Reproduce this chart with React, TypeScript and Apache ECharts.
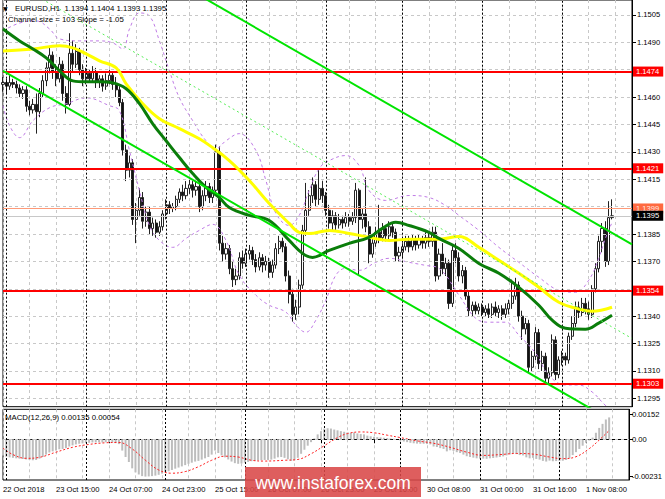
import React, { useEffect, useRef } from "react";
import * as echarts from "echarts";

const FONT = '"Liberation Sans", Arial, sans-serif';
const N_CATS = 190;

const xTickLabels = [
  "22 Oct 2018", "23 Oct 15:00", "24 Oct 07:00", "24 Oct 23:00", "25 Oct 15:00", "26 Oct 07:00",
  "26 Oct 23:00", "29 Oct 16:00", "30 Oct 08:00", "31 Oct 00:00", "31 Oct 16:00", "1 Nov 08:00",
];
const priceTicks = [1.1505, 1.149, 1.146, 1.1445, 1.143, 1.1415, 1.1385, 1.137, 1.134, 1.1325, 1.131, 1.1295];
const gridPrices = [1.1505, 1.149, 1.1475, 1.146, 1.1445, 1.143, 1.1415, 1.14, 1.1385, 1.137, 1.1355, 1.134, 1.1325, 1.131, 1.1295];
const separatorBars = [1, 25, 49, 73, 97, 120, 144, 168];
const levelLines = [1.1474, 1.1421, 1.1354, 1.1303];
const askPrice = 1.1399;
const bidPrice = 1.1395;

// [open, close, low, high]
const candles = [
  [1.1467, 1.1468, 1.1463, 1.1471], [1.1468, 1.1466, 1.1462, 1.147], [1.1466, 1.1468, 1.1464, 1.1472],
  [1.1468, 1.1467, 1.1465, 1.147], [1.1467, 1.1465, 1.1462, 1.1469], [1.1465, 1.1462, 1.146, 1.1467],
  [1.1462, 1.1464, 1.1459, 1.1466], [1.1464, 1.1455, 1.1452, 1.1466], [1.1455, 1.1453, 1.145, 1.1458],
  [1.1453, 1.1456, 1.1451, 1.1459], [1.1456, 1.1452, 1.144, 1.1462], [1.1452, 1.1462, 1.1449, 1.1465],
  [1.1462, 1.1469, 1.146, 1.1472], [1.1469, 1.1476, 1.1466, 1.1479], [1.1476, 1.1483, 1.1473, 1.1487],
  [1.1483, 1.1474, 1.147, 1.1485], [1.1474, 1.147, 1.1466, 1.1478], [1.147, 1.1478, 1.1468, 1.1482],
  [1.1478, 1.1462, 1.1458, 1.148], [1.1462, 1.1456, 1.1451, 1.1466], [1.1456, 1.1484, 1.1455, 1.1495],
  [1.1484, 1.1478, 1.1474, 1.1491], [1.1478, 1.1485, 1.1476, 1.1489], [1.1485, 1.1475, 1.1472, 1.1487],
  [1.1475, 1.147, 1.1466, 1.1478], [1.147, 1.1473, 1.1467, 1.1476], [1.1473, 1.147, 1.1468, 1.1475],
  [1.147, 1.1474, 1.1468, 1.1477], [1.1474, 1.1468, 1.1465, 1.1476], [1.1468, 1.147, 1.1465, 1.1472],
  [1.147, 1.1466, 1.1463, 1.1472], [1.1466, 1.1469, 1.1464, 1.1473], [1.1469, 1.1472, 1.1467, 1.1475],
  [1.1472, 1.1467, 1.1464, 1.1474], [1.1467, 1.1464, 1.146, 1.1471], [1.1464, 1.1457, 1.1455, 1.1466],
  [1.1457, 1.1431, 1.1428, 1.1459], [1.1431, 1.142, 1.1414, 1.1434], [1.142, 1.1424, 1.1416, 1.1428],
  [1.1424, 1.1393, 1.139, 1.1426], [1.1393, 1.1398, 1.138, 1.1402], [1.1398, 1.1405, 1.1395, 1.141],
  [1.1405, 1.1392, 1.1388, 1.1408], [1.1392, 1.1397, 1.1389, 1.14], [1.1397, 1.1388, 1.1385, 1.14],
  [1.1388, 1.1391, 1.1384, 1.1394], [1.1391, 1.1386, 1.1383, 1.1393], [1.1386, 1.1389, 1.1384, 1.1392],
  [1.1389, 1.1396, 1.1387, 1.1398], [1.1396, 1.1401, 1.1393, 1.1404], [1.1401, 1.1399, 1.1396, 1.1403],
  [1.1399, 1.14, 1.1397, 1.1402], [1.14, 1.1404, 1.1398, 1.1406], [1.1404, 1.1408, 1.1402, 1.141],
  [1.1408, 1.1406, 1.1403, 1.1412], [1.1406, 1.141, 1.1404, 1.1414], [1.141, 1.1412, 1.1407, 1.1416],
  [1.1412, 1.1409, 1.1405, 1.1414], [1.1409, 1.1411, 1.1406, 1.1414], [1.1411, 1.14, 1.1397, 1.1413],
  [1.14, 1.1406, 1.1398, 1.1409], [1.1406, 1.1411, 1.1403, 1.1414], [1.1411, 1.1405, 1.1402, 1.1413],
  [1.1405, 1.1409, 1.1402, 1.1411], [1.1409, 1.143, 1.1406, 1.1434], [1.143, 1.138, 1.1376, 1.1433],
  [1.138, 1.1374, 1.137, 1.1384], [1.1374, 1.1377, 1.1371, 1.138], [1.1377, 1.1366, 1.1363, 1.1379],
  [1.1366, 1.136, 1.1356, 1.137], [1.136, 1.1362, 1.1357, 1.1366], [1.1362, 1.1372, 1.136, 1.1375],
  [1.1372, 1.1369, 1.1366, 1.1376], [1.1369, 1.1374, 1.1367, 1.1377], [1.1374, 1.1376, 1.1371, 1.1379],
  [1.1376, 1.1371, 1.1368, 1.1378], [1.1371, 1.1367, 1.1364, 1.1374], [1.1367, 1.1372, 1.1365, 1.1375],
  [1.1372, 1.1368, 1.1364, 1.1374], [1.1368, 1.137, 1.1365, 1.1373], [1.137, 1.1364, 1.1361, 1.1372],
  [1.1364, 1.1368, 1.1361, 1.1371], [1.1368, 1.1377, 1.1366, 1.138], [1.1377, 1.1381, 1.1374, 1.1384],
  [1.1381, 1.1378, 1.1375, 1.1383], [1.1378, 1.1362, 1.1359, 1.138], [1.1362, 1.1352, 1.1347, 1.1365],
  [1.1352, 1.1341, 1.1337, 1.1355], [1.1341, 1.1345, 1.1338, 1.1349], [1.1345, 1.1357, 1.1341, 1.136],
  [1.1357, 1.1387, 1.1355, 1.139], [1.1387, 1.1398, 1.1384, 1.1413], [1.1398, 1.1406, 1.1395, 1.1409],
  [1.1406, 1.1412, 1.1402, 1.1416], [1.1412, 1.1404, 1.14, 1.1414], [1.1404, 1.141, 1.1401, 1.1421],
  [1.141, 1.1406, 1.1402, 1.1414], [1.1406, 1.1398, 1.1395, 1.1408], [1.1398, 1.1391, 1.1388, 1.1401],
  [1.1391, 1.1395, 1.1387, 1.1398], [1.1395, 1.139, 1.1387, 1.1397], [1.139, 1.1393, 1.1388, 1.1396],
  [1.1393, 1.1391, 1.1388, 1.1395], [1.1391, 1.1394, 1.1389, 1.1397], [1.1394, 1.1392, 1.1389, 1.1396],
  [1.1392, 1.1394, 1.139, 1.1397], [1.1394, 1.1409, 1.1391, 1.1413], [1.1409, 1.1393, 1.1362, 1.141],
  [1.1393, 1.1396, 1.1388, 1.1399], [1.1396, 1.1389, 1.1386, 1.1416], [1.1389, 1.1374, 1.1369, 1.1392],
  [1.1374, 1.138, 1.1372, 1.1383], [1.138, 1.1386, 1.1378, 1.1389], [1.1386, 1.1383, 1.138, 1.1401],
  [1.1383, 1.1388, 1.1381, 1.1391], [1.1388, 1.1384, 1.1381, 1.139], [1.1384, 1.1389, 1.1382, 1.1392],
  [1.1389, 1.1386, 1.1383, 1.1391], [1.1386, 1.1373, 1.137, 1.1388], [1.1373, 1.1375, 1.137, 1.1378],
  [1.1375, 1.1378, 1.1372, 1.138], [1.1378, 1.1381, 1.1376, 1.1384], [1.1381, 1.1378, 1.1375, 1.1384],
  [1.1378, 1.1382, 1.1376, 1.1385], [1.1382, 1.1379, 1.1376, 1.1384], [1.1379, 1.1382, 1.1377, 1.1385],
  [1.1382, 1.138, 1.1377, 1.1384], [1.138, 1.1383, 1.1377, 1.1386], [1.1383, 1.1381, 1.1378, 1.1386],
  [1.1381, 1.1386, 1.1378, 1.1389], [1.1386, 1.1362, 1.1359, 1.1389], [1.1362, 1.1374, 1.136, 1.1377],
  [1.1374, 1.1366, 1.1363, 1.138], [1.1366, 1.1369, 1.1362, 1.1372], [1.1369, 1.1347, 1.1344, 1.1371],
  [1.1347, 1.1376, 1.1345, 1.1379], [1.1376, 1.1372, 1.1369, 1.138], [1.1372, 1.1362, 1.1359, 1.1375],
  [1.1362, 1.1365, 1.1358, 1.1368], [1.1365, 1.1351, 1.1349, 1.1367], [1.1351, 1.1343, 1.134, 1.1354],
  [1.1343, 1.1346, 1.134, 1.1348], [1.1346, 1.1343, 1.1341, 1.1348], [1.1343, 1.1345, 1.1341, 1.1347],
  [1.1345, 1.1342, 1.134, 1.1347], [1.1342, 1.1344, 1.134, 1.1346], [1.1344, 1.1341, 1.1339, 1.1347],
  [1.1341, 1.1345, 1.1339, 1.1347], [1.1345, 1.1342, 1.134, 1.1348], [1.1342, 1.1344, 1.1339, 1.1346],
  [1.1344, 1.1341, 1.1338, 1.1346], [1.1341, 1.1344, 1.1339, 1.1347], [1.1344, 1.1347, 1.1341, 1.1349],
  [1.1347, 1.1351, 1.1344, 1.136], [1.1351, 1.1357, 1.1349, 1.1361], [1.1357, 1.134, 1.1337, 1.1359],
  [1.134, 1.1333, 1.1327, 1.1343], [1.1333, 1.1336, 1.133, 1.1339], [1.1336, 1.1312, 1.1309, 1.1338],
  [1.1312, 1.1318, 1.131, 1.1321], [1.1318, 1.1331, 1.1316, 1.1334], [1.1331, 1.1314, 1.1311, 1.1333],
  [1.1314, 1.1318, 1.131, 1.1321], [1.1318, 1.1306, 1.1303, 1.132], [1.1306, 1.1309, 1.1303, 1.1312],
  [1.1309, 1.1327, 1.1307, 1.133], [1.1327, 1.1308, 1.1305, 1.1329], [1.1308, 1.1316, 1.1306, 1.1318],
  [1.1316, 1.1318, 1.1313, 1.1321], [1.1318, 1.1316, 1.1313, 1.132], [1.1316, 1.1329, 1.1314, 1.1331],
  [1.1329, 1.1336, 1.1327, 1.134], [1.1336, 1.1345, 1.1334, 1.1348], [1.1345, 1.1342, 1.1339, 1.1348],
  [1.1342, 1.1347, 1.134, 1.135], [1.1347, 1.1344, 1.1341, 1.135], [1.1344, 1.1341, 1.1338, 1.1348],
  [1.1341, 1.1355, 1.1339, 1.1357], [1.1355, 1.1366, 1.1353, 1.1369], [1.1366, 1.1381, 1.1364, 1.1384],
  [1.1381, 1.1388, 1.1375, 1.1391], [1.1388, 1.137, 1.1367, 1.1392], [1.137, 1.1394, 1.1368, 1.1403],
  [1.1394, 1.1395, 1.1393, 1.1404],
];

// [bar index, price]
const maYellow = [
  [0, 1.14853], [9, 1.14864], [17, 1.14881], [21, 1.1487], [25, 1.14837], [29, 1.14799], [34, 1.1476],
  [37, 1.14673], [42, 1.14564], [47, 1.14482], [53, 1.14427], [59, 1.14372], [63, 1.14323], [68, 1.14252],
  [74, 1.14143], [80, 1.14017], [86, 1.13908], [89, 1.13859], [92, 1.13853], [98, 1.1387], [104, 1.13853],
  [110, 1.13832], [116, 1.13815], [122, 1.13821], [131, 1.13821], [137, 1.13837], [143, 1.13777],
  [149, 1.13706], [155, 1.13635], [161, 1.13558], [167, 1.13476], [172, 1.13444], [177, 1.13427], [183, 1.13449],
];
const maGreen = [
  [0, 1.14973], [5, 1.14908], [9, 1.14864], [13, 1.14815], [17, 1.14744], [21, 1.14689], [25, 1.14684],
  [29, 1.14684], [33, 1.14678], [37, 1.14646], [41, 1.14564], [45, 1.14454], [49, 1.14361], [53, 1.14269],
  [57, 1.14181], [61, 1.14105], [65, 1.1405], [68, 1.13995], [74, 1.13952], [80, 1.13924], [86, 1.13815],
  [90, 1.13744], [93, 1.13722], [98, 1.1376], [104, 1.13799], [110, 1.13832], [114, 1.13881], [118, 1.13914],
  [122, 1.13897], [128, 1.13859], [131, 1.13826], [137, 1.13771], [143, 1.13689], [149, 1.13635],
  [155, 1.13558], [161, 1.1346], [165, 1.13378], [169, 1.13334], [175, 1.13329], [179, 1.13362], [183, 1.13405],
];
const bandUpper = [
  [0, 1.14963], [5, 1.15006], [10, 1.15017], [14, 1.14973], [17, 1.14919], [23, 1.14908], [29, 1.14908],
  [33, 1.14897], [36, 1.14864], [38, 1.14973], [41, 1.15061], [44, 1.15045], [47, 1.14908], [50, 1.14744],
  [53, 1.14596], [57, 1.14471], [61, 1.14361], [64, 1.14318], [67, 1.14361], [71, 1.144], [76, 1.14307],
  [79, 1.14143], [82, 1.13963], [86, 1.13897], [89, 1.13952], [92, 1.14088], [95, 1.14209], [98, 1.14252],
  [103, 1.1428], [107, 1.14225], [110, 1.14088], [115, 1.14034], [122, 1.14061], [128, 1.1405],
  [133, 1.14006], [137, 1.13952], [143, 1.1387], [149, 1.13777], [155, 1.13695], [161, 1.13613],
  [167, 1.13542], [172, 1.13531], [176, 1.13597], [179, 1.13717], [181, 1.13826], [183, 1.13913],
];
const bandLower = [
  [0, 1.14553], [2, 1.14443], [5, 1.14378], [9, 1.14471], [14, 1.14542], [19, 1.14564], [25, 1.14596],
  [32, 1.14553], [35, 1.14525], [38, 1.14307], [41, 1.14088], [44, 1.13897], [47, 1.13815], [51, 1.13777],
  [55, 1.13826], [59, 1.1387], [63, 1.13903], [67, 1.13815], [71, 1.13624], [76, 1.13515], [80, 1.1346],
  [85, 1.13422], [88, 1.13351], [91, 1.13312], [94, 1.13378], [97, 1.13487], [100, 1.13624], [103, 1.13662],
  [107, 1.13651], [112, 1.13695], [116, 1.13717], [122, 1.13695], [127, 1.13678], [131, 1.13662],
  [137, 1.13515], [142, 1.13389], [146, 1.13367], [151, 1.13367], [155, 1.13296], [160, 1.13198],
  [164, 1.13077], [169, 1.13023], [173, 1.13023], [177, 1.12985], [180, 1.1293], [183, 1.12875],
];
const channelUpper = [[0, 1.15777], [189, 1.13793]];
const channelMiddle = [[0, 1.1526], [189, 1.13278]];
const channelLower = [[0, 1.14744], [189, 1.12764]];

const macdHist = [
  -0.001, -0.00108, -0.00112, -0.00115, -0.00118, -0.0012, -0.00122, -0.00125, -0.00128, -0.0013,
  -0.00128, -0.0012, -0.0011, -0.00095, -0.00082, -0.00075, -0.0007, -0.00062, -0.0006, -0.00055,
  -0.00045, -0.00038, -0.00032, -0.00028, -0.00026, -0.00024, -0.00022, -0.0002, -0.0002, -0.00019,
  -0.0002, -0.00019, -0.00018, -0.0002, -0.00024, -0.0003, -0.0007, -0.0011, -0.0014, -0.0018,
  -0.00205, -0.00218, -0.00228, -0.00231, -0.0023, -0.00228, -0.00225, -0.0022, -0.00212, -0.00205,
  -0.00198, -0.0019, -0.00182, -0.00175, -0.00168, -0.0016, -0.00152, -0.00145, -0.00138, -0.00134,
  -0.00126, -0.00118, -0.0011, -0.00095, -0.0007, -0.00085, -0.001, -0.00112, -0.00125, -0.00138,
  -0.00148, -0.00152, -0.0015, -0.00145, -0.0014, -0.00136, -0.00134, -0.00131, -0.0013, -0.00128,
  -0.00128, -0.00126, -0.0012, -0.00112, -0.0011, -0.00115, -0.00124, -0.00134, -0.0013, -0.00115,
  -0.0009, -0.00065, -0.0004, -0.00018, 0.00005, 0.0003, 0.0005, 0.00065, 0.00068, 0.00066,
  0.0006, 0.00055, 0.0005, 0.00046, 0.00042, 0.0004, 0.00042, 0.00036, 0.00032, 0.0003,
  0.00022, 0.00018, 0.00015, 0.00013, 0.00011, 0.00009, 0.00007, 0.00005, 0.00003, 0.0,
  -0.00008, -0.00014, -0.00018, -0.00022, -0.00025, -0.00027, -0.00028, -0.00028, -0.0003, -0.00032,
  -0.00045, -0.00048, -0.00055, -0.0006, -0.00075, -0.00068, -0.00072, -0.0008, -0.00085, -0.00095,
  -0.00105, -0.0011, -0.00114, -0.00118, -0.0012, -0.0012, -0.00121, -0.00118, -0.00116, -0.00113,
  -0.0011, -0.00106, -0.001, -0.00094, -0.00088, -0.00092, -0.00098, -0.001, -0.00112, -0.00118,
  -0.00115, -0.00122, -0.00126, -0.00134, -0.00138, -0.00132, -0.00136, -0.00135, -0.00134, -0.00133,
  -0.00128, -0.00118, -0.00098, -0.0008, -0.0006, -0.0004, -0.00022, -0.00008, 0.0001, 0.0004,
  0.0007, 0.00095, 0.00122, 0.00135,
];
const macdSignal = [
  [0, -0.00055], [3, -0.00095], [7, -0.00118], [11, -0.00112], [16, -0.0008], [21, -0.0005], [26, -0.00032],
  [31, -0.00022], [35, -0.0002], [39, -0.0006], [43, -0.0013], [47, -0.0019], [51, -0.0021], [55, -0.002],
  [59, -0.0017], [63, -0.0013], [67, -0.00105], [71, -0.0011], [75, -0.0013], [79, -0.00135], [85, -0.0013],
  [89, -0.00125], [93, -0.0009], [97, -0.0004], [101, 0.0001], [104, 0.00035], [108, 0.00045], [112, 0.0004],
  [116, 0.00025], [120, 0.0001], [125, -0.0001], [130, -0.00025], [135, -0.0005], [140, -0.0008],
  [145, -0.001], [150, -0.00095], [155, -0.00088], [160, -0.00092], [165, -0.0011], [169, -0.0012],
  [173, -0.00108], [177, -0.00058], [180, -0.00005], [183, 0.00054],
];
const macdTicks = [0.00152, 0, -0.00231];

function sparse(points: number[][]) {
  const arr: (number | null)[] = new Array(N_CATS).fill(null);
  points.forEach(([i, v]) => {
    arr[i] = v;
  });
  return arr;
}

export default function App() {
  const ref = useRef<HTMLDivElement>(null);

  useEffect(() => {
    if (!ref.current) return;
    const chart = echarts.init(ref.current, null, { renderer: "svg" });
    const cats = Array.from({ length: N_CATS }, (_, i) => String(i));
    const emptyData = new Array(N_CATS).fill(null);

    const lineBase = {
      type: "line",
      xAxisIndex: 0,
      yAxisIndex: 0,
      symbol: "none",
      connectNulls: true,
      silent: true,
      clip: true,
    };

    const levelLabel = (text: string, bg: string, fg: string) => ({
      show: true,
      position: "end",
      distance: 1,
      formatter: text,
      backgroundColor: bg,
      color: fg,
      padding: [1, 4, 1, 3],
      fontSize: 7.6,
      fontFamily: FONT,
    });

    const option = {
      animation: false,
      backgroundColor: "#ffffff",
      textStyle: { fontFamily: FONT },
      grid: [
        { left: 3, right: 33, top: -1, height: 407.7, show: true, borderColor: "#000", borderWidth: 1, backgroundColor: "transparent" },
        { left: 3, right: 33, top: 409.3, height: 70.7, show: true, borderColor: "#000", borderWidth: 1, backgroundColor: "transparent" },
      ],
      xAxis: [
        {
          type: "category",
          gridIndex: 0,
          data: cats,
          boundaryGap: false,
          axisLine: { show: false },
          axisTick: { show: false },
          axisLabel: { show: false },
          splitLine: {
            show: true,
            interval: (i: number) => i % 8 === 0,
            lineStyle: { color: "#c8c8c8", type: [3, 3], width: 1 },
          },
        },
        {
          type: "category",
          gridIndex: 1,
          data: cats,
          boundaryGap: false,
          axisLine: { show: true, lineStyle: { color: "#000", width: 1 } },
          axisTick: {
            show: true,
            interval: (i: number) => i % 16 === 0 && i <= 176,
            length: 4,
            lineStyle: { color: "#000" },
          },
          axisLabel: {
            show: true,
            interval: (i: number) => i % 16 === 0 && i <= 176,
            formatter: (v: string) => xTickLabels[Number(v) / 16] || "",
            align: "left",
            fontSize: 7.6,
            color: "#000",
            margin: 5,
            fontFamily: FONT,
          },
          splitLine: {
            show: true,
            interval: (i: number) => i % 8 === 0,
            lineStyle: { color: "#c8c8c8", type: [3, 3], width: 1 },
          },
        },
      ],
      yAxis: [
        {
          type: "value",
          gridIndex: 0,
          position: "right",
          min: 1.129041,
          max: 1.15132,
          axisLine: { show: true, lineStyle: { color: "#000", width: 1 } },
          axisTick: { show: true, length: 4, customValues: priceTicks, lineStyle: { color: "#000" } },
          axisLabel: {
            show: true,
            customValues: priceTicks,
            formatter: (v: number) => v.toFixed(4),
            fontSize: 7.6,
            color: "#000",
            margin: 5,
            fontFamily: FONT,
          },
          splitLine: { show: false },
        },
        {
          type: "value",
          gridIndex: 1,
          position: "right",
          min: -0.00252,
          max: 0.00185,
          axisLine: { show: true, lineStyle: { color: "#000", width: 1 } },
          axisTick: { show: true, length: 4, customValues: macdTicks, lineStyle: { color: "#000" } },
          axisLabel: {
            show: true,
            customValues: macdTicks,
            formatter: (v: number) => (Math.abs(v) < 1e-12 ? "0.00" : v.toFixed(5)),
            fontSize: 7.6,
            color: "#000",
            margin: 3,
            fontFamily: FONT,
          },
          splitLine: { show: false },
        },
      ],
      series: [
        {
          ...lineBase,
          name: "gridHelper",
          data: emptyData,
          z: 1,
          markLine: {
            silent: true,
            precision: 6,
            symbol: ["none", "none"],
            label: { show: false },
            lineStyle: { color: "#c8c8c8", type: [3, 3], width: 1 },
            data: [
              ...gridPrices.map((p) => ({ yAxis: p })),
              ...separatorBars.map((b) => ({
                xAxis: String(b),
                lineStyle: { color: "#000", type: [2, 2], width: 1 },
              })),
            ],
          },
        },
        {
          type: "candlestick",
          xAxisIndex: 0,
          yAxisIndex: 0,
          data: candles,
          barWidth: 2.6,
          silent: true,
          z: 3,
          itemStyle: {
            color: "#ffffff",
            color0: "#111111",
            borderColor: "#222222",
            borderColor0: "#222222",
            borderWidth: 1,
          },
        },
        {
          ...lineBase,
          name: "bandUpper",
          data: sparse(bandUpper),
          smooth: 0.4,
          z: 4,
          lineStyle: { color: "#c07ce6", width: 1, type: [3, 3] },
        },
        {
          ...lineBase,
          name: "bandLower",
          data: sparse(bandLower),
          smooth: 0.4,
          z: 4,
          lineStyle: { color: "#c07ce6", width: 1, type: [3, 3] },
        },
        {
          ...lineBase,
          name: "maYellow",
          data: sparse(maYellow),
          smooth: 0.4,
          z: 5,
          lineStyle: { color: "#ffff00", width: 3 },
        },
        {
          ...lineBase,
          name: "maGreen",
          data: sparse(maGreen),
          smooth: 0.4,
          z: 6,
          lineStyle: { color: "#0a7d0a", width: 3 },
        },
        {
          ...lineBase,
          name: "channelUpper",
          data: sparse(channelUpper),
          z: 7,
          lineStyle: { color: "#00e400", width: 2 },
        },
        {
          ...lineBase,
          name: "channelMiddle",
          data: sparse(channelMiddle),
          z: 7,
          lineStyle: { color: "#55ee55", width: 1, type: [2, 3] },
        },
        {
          ...lineBase,
          name: "channelLower",
          data: sparse(channelLower),
          z: 7,
          lineStyle: { color: "#00e400", width: 2 },
        },
        {
          ...lineBase,
          name: "levels",
          data: emptyData,
          z: 8,
          markLine: {
            silent: true,
            precision: 6,
            symbol: ["none", "none"],
            data: [
              {
                yAxis: askPrice,
                lineStyle: { color: "#ff9a78", width: 1, type: "solid" },
                label: levelLabel(askPrice.toFixed(4), "#ff6a40", "#ffe8e0"),
              },
              {
                yAxis: bidPrice,
                lineStyle: { color: "#c8c8c8", width: 1, type: "solid" },
                label: levelLabel(bidPrice.toFixed(4), "#000000", "#ffffff"),
              },
              ...levelLines.map((p) => ({
                yAxis: p,
                lineStyle: { color: "#ff0000", width: 2, type: "solid" },
                label: levelLabel(p.toFixed(4), "#ff0000", "#ffffff"),
              })),
            ],
          },
        },
        {
          type: "bar",
          xAxisIndex: 1,
          yAxisIndex: 1,
          data: macdHist,
          barWidth: 2,
          silent: true,
          z: 3,
          itemStyle: { color: "#bdbdbd" },
          markLine: {
            silent: true,
            precision: 6,
            symbol: ["none", "none"],
            label: { show: false },
            data: [
              { yAxis: 0, lineStyle: { color: "#c8c8c8", type: [3, 3], width: 1 } },
              ...separatorBars.map((b) => ({
                xAxis: String(b),
                lineStyle: { color: "#000", type: [2, 2], width: 1 },
              })),
            ],
          },
        },
        {
          type: "line",
          xAxisIndex: 1,
          yAxisIndex: 1,
          data: sparse(macdSignal),
          symbol: "none",
          connectNulls: true,
          smooth: 0.4,
          silent: true,
          z: 4,
          lineStyle: { color: "#ff2020", width: 1, type: [2, 2] },
        },
      ],
      graphic: [
        {
          type: "text",
          x: 3,
          y: 8,
          z: 100,
          style: { text: "▼", fill: "#000", font: '6px "DejaVu Sans"', verticalAlign: "middle" },
        },
        {
          type: "text",
          x: 15,
          y: 8.5,
          z: 100,
          style: {
            text: "EURUSD,H1  1.1394 1.1404 1.1393 1.1395",
            fill: "#000",
            font: '7.8px "Liberation Sans"',
            verticalAlign: "middle",
          },
        },
        {
          type: "text",
          x: 8,
          y: 19.5,
          z: 100,
          style: {
            text: "Channel size = 103 Slope = -1.05",
            fill: "#000",
            font: '7.8px "Liberation Sans"',
            verticalAlign: "middle",
          },
        },
        {
          type: "text",
          x: 5,
          y: 417,
          z: 100,
          style: {
            text: "MACD(12,26,9) 0.00135 0.00054",
            fill: "#000",
            font: '7.8px "Liberation Sans"',
            verticalAlign: "middle",
          },
        },
        {
          type: "rect",
          z: 100,
          shape: { x: 245, y: 467, width: 176, height: 30 },
          style: { fill: "rgba(218, 72, 72, 0.88)" },
        },
        {
          type: "text",
          x: 333,
          y: 482.5,
          z: 101,
          style: {
            text: "www.instaforex.com",
            fill: "#ffffff",
            font: '17.5px "Liberation Sans"',
            align: "center",
            verticalAlign: "middle",
          },
        },
      ],
    };

    chart.setOption(option as any);
    return () => {
      chart.dispose();
    };
  }, []);

  return (
    <div
      ref={ref}
      style={{ position: "fixed", left: 0, top: 0, width: 665, height: 499, background: "#fff" }}
    />
  );
}
